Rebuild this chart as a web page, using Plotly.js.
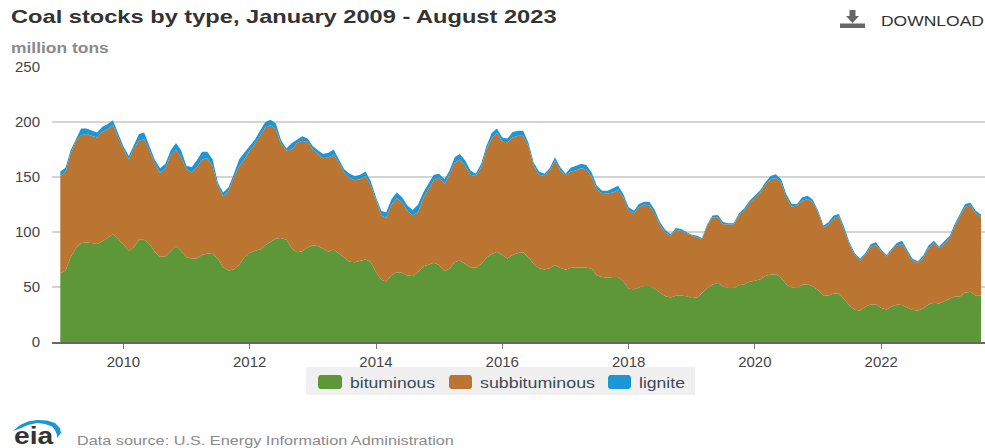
<!DOCTYPE html>
<html><head><meta charset="utf-8">
<script src="https://cdn.plot.ly/plotly-3.0.1.min.js"></script>
<style>
html,body{margin:0;padding:0;background:#fff;overflow:hidden}
#c{width:985px;height:448px}
</style></head><body><div id="c"></div>
<script>
const bituminous=[
62.6,65,77,85,90,90.5,90,89,91.6,94.6,98,94,
88,83,86,93,93,89,82,77.5,78,83,87.5,83,
77,76,76,79,80.5,80,76,68,65,66,70,77,
81,83,84,88,91,94,94.5,93,85,81.5,82.5,86,
88,87,85,82,84,80,76.5,73,72.6,74,75,72.7,
63.5,56.5,55,61,63.5,63,60.5,60,63.5,68.6,70.4,72,
70,64.4,66.5,72.5,74,71,68,67.4,71,76.5,80,82,
78.6,76,79,81,81.6,77,71,67,66,67,70,67.4,
65.6,67.4,67.7,67.7,67.7,66.5,60.5,59,58.4,59,59,55,
48.4,48,49.6,50.8,51,48.4,45,41.7,40.5,42,42.3,41.7,
40,40.5,44.4,49,52,53.8,50.5,49,49,51.7,52.6,54.7,
55.6,57,60,61.4,61.7,58.3,52.3,49.6,49,52,52.6,50.5,
47,42,42.3,44,44,39,33,29.3,28.7,32,34,34,
31,29.6,32,34,33.6,31,29,28.7,30.5,34,35.7,35,
37,39,41.4,41.4,44.7,45.7,42,42];
const subbituminous=[
88.4,90,94,98,98,98.5,97.5,97,99.4,98.9,99.4,93,
87,83,89.5,90,91.4,85,80.6,76.1,80,87,87.5,85,
80,78,82.7,87,86.5,80,66,64.4,72.5,83.6,90,89,
93,97,103,107,106,99.5,85.5,81,90,99.5,100.5,96,
87,84,82,86,86,83,77.5,76,74.4,74,76,70.3,
64.5,58.5,58,64,67.1,64,58.9,55,54.5,62,68.6,75,
79.6,79.2,85.5,90.5,92,89,84,83.6,87.7,98.5,105,108.5,
103.4,105.7,107,106.4,105.8,101,89,85,85,88.7,95,88.6,
86.1,87.6,88.3,90.3,89.3,83.5,78.5,75.5,76.6,77,79,76.5,
71,69,72.8,74.2,73,68,61.4,58.1,56.2,60,58.7,57.3,
56.4,54.5,49.3,56.8,61.4,59.6,56.5,57.7,57.7,63.8,66.8,71.7,
75.9,79,82.7,86.6,87.3,86.7,79.2,73.4,75,76.5,77.4,76.5,
70.6,62.3,64.4,68,70,63,55.6,49.7,45.3,47,52.8,54,
51.5,48.1,51,53.7,55.4,50,45,43.3,46,51.5,54.1,50.5,
52,55.6,63.6,72.6,78.3,78.3,75,72];
const lignite=[
3.8,3.7,3,2,6,5,5.1,4.5,4.6,4.5,4.2,3.5,
3,3,2.5,6,6.1,4,3.4,4.4,4,4,6,6,
3,5,6.3,7,6,6,3,3.6,3.1,3,6,6,
4,4,5,5,5,5.1,3.5,2,6,3,4,3,
3,3,4,4,5,3,3,4,4,4,4,3.6,
3.5,4,5,5,5.4,4.5,4.6,5,7,5.4,4.6,5,
3.4,4.4,3.7,5,5,5,4,2,3.3,3,5,3.5,
4,3.3,5,4.6,4.6,3,3,3,2,2.3,3,3,
1.3,3.7,4,4,4,4,3,3,2.5,3.7,4,3,
3,2.4,3.1,2.6,3.6,3.6,2.6,2.2,1.3,1.7,1.8,1,
1.2,1.7,0.9,1.2,1.6,2.1,2,1.3,1.3,1.5,2.1,2.1,
1.5,2,2.3,3,3.4,3,3,2.5,1.5,3,3,2.4,
1.8,1.5,2.1,3,2.4,2.3,2.1,1.7,1.6,2,2.1,2.7,
1.5,1.3,1.6,2.3,3,2,1.6,1.5,2.1,2.2,2.2,1.3,
3,2.1,2,2.4,2.5,2.7,2.4,1.8];
const months=bituminous.map((_,i)=>{const y=2009+Math.floor(i/12),m=i%12+1;return y+'-'+String(m).padStart(2,'0')+'-01';});
const seriesNames=['bituminous','subbituminous','lignite'];
const colors=['#5d9738','#b97531','#1b97d8'];
const yTicks=[0,50,100,150,200,250];
const W=985,H=448,px=x=>x/W,py=y=>1-y/H;
const sans='"Liberation Sans",Arial,sans-serif';
const traces=[bituminous,subbituminous,lignite].map((v,i)=>({
  type:'scatter',x:months,y:v,name:seriesNames[i],stackgroup:'one',mode:'lines',
  line:{width:0,color:colors[i]},fillcolor:colors[i],showlegend:false}));
const txt=(x,y,text,size,color,bold)=>({xref:'paper',yref:'paper',x:px(x),y:py(y),xanchor:'left',yanchor:'middle',
  showarrow:false,text:bold?'<b>'+text+'</b>':text,align:'left',borderpad:0,font:{family:sans,size:size,color:color}});
const box=(x0,y0,x1,y1,c)=>({type:'rect',xref:'paper',yref:'paper',x0:px(x0),x1:px(x1),y0:py(y0),y1:py(y1),fillcolor:c,line:{width:0},layer:'above'});
const pathOf=pts=>'M'+pts.map(p=>px(p[0])+','+py(p[1])).join('L')+'Z';
const swatch=(x0,x1,c)=>{const y0=375,y1=389,r=2.5;return {type:'path',xref:'paper',yref:'paper',fillcolor:c,line:{width:0},
  path:pathOf([[x0+r,y0],[x1-r,y0],[x1-0.8,y0+0.8],[x1,y0+r],[x1,y1-r],[x1-0.8,y1-0.8],[x1-r,y1],[x0+r,y1],[x0+0.8,y1-0.8],[x0,y1-r],[x0,y0+r],[x0+0.8,y0+0.8]])};};
// horizontal widths (pixels) of the reference's stretched labels, in annotation order
const textWidths=[546,98,103,85,115,46,40,377];
const layout={width:W,height:H,margin:{l:0,r:0,t:0,b:0},paper_bgcolor:'#fff',plot_bgcolor:'#fff',showlegend:false,
  font:{family:sans,size:14,color:'#444'},
  xaxis:{domain:[px(52),1],type:'date',range:['2008-11-14','2023-08-24'],tick0:'2010-01-01',dtick:'M24',tickformat:'%Y',
    ticks:'outside',ticklen:5,tickcolor:'#777',tickwidth:1,showgrid:false,showline:true,linecolor:'#666',linewidth:1.5,
    tickfont:{family:sans,size:15,color:'#444'},zeroline:false},
  yaxis:{domain:[py(342),py(67)],range:[0,250],tickvals:yTicks,showgrid:true,gridcolor:'#d4d4d4',gridwidth:1.5,zeroline:false,
    ticks:'',ticklabelstandoff:11,tickfont:{family:sans,size:15,color:'#444'}},
  annotations:[
    txt(10,17,'Coal stocks by type, January 2009 - August 2023',18,'#333',true),
    txt(10,48,'million tons',14,'#8a8a8a',true),
    txt(880,21,'DOWNLOAD',14,'#333',false),
    txt(349,383,seriesNames[0],14.5,'#3d4a55',false),
    txt(479,383,seriesNames[1],14.5,'#3d4a55',false),
    txt(638,383,seriesNames[2],14.5,'#3d4a55',false),
    txt(13,435.5,'eia',24,'#333',true),
    txt(76,440,'Data source: U.S. Energy Information Administration',13,'#8a8a8a',false)
  ],
  shapes:[
    Object.assign(box(306,367,695,395,'#f0f0f0'),{layer:'below'}),
    swatch(318,342,colors[0]),swatch(449,472,colors[1]),swatch(608,631,colors[2]),
    {type:'path',xref:'paper',yref:'paper',fillcolor:'#666',line:{width:0},
      path:pathOf([[849.5,10],[855.5,10],[855.5,16],[859,16],[852.5,23],[846,16],[849.5,16]])},
    box(840,23.5,865,28,'#666'),
    {type:'path',xref:'paper',yref:'paper',fillcolor:'#1b97d8',line:{width:0},
      path:pathOf([[13,431],[20,425],[28,421.5],[37,420],[47,420.5],[55,423],[60,428],[61,433],[57,438],[57,435],[55,430],[52,426.5],[45,424],[37,423],[28,425],[20,428.5]])}
  ]};
Plotly.newPlot('c',traces,layout,{staticPlot:true,displayModeBar:false}).then(()=>{
  document.querySelectorAll('#c g.annotation').forEach(g=>{
    const t=g.querySelector('text.annotation-text'),w=textWidths[+g.getAttribute('data-index')];
    if(!t||!w)return;
    const b=t.getBBox(),s=w/b.width;
    t.setAttribute('transform','translate('+b.x+',0) scale('+s+',1) translate('+(-b.x)+',0)');
  });
});
</script></body></html>
